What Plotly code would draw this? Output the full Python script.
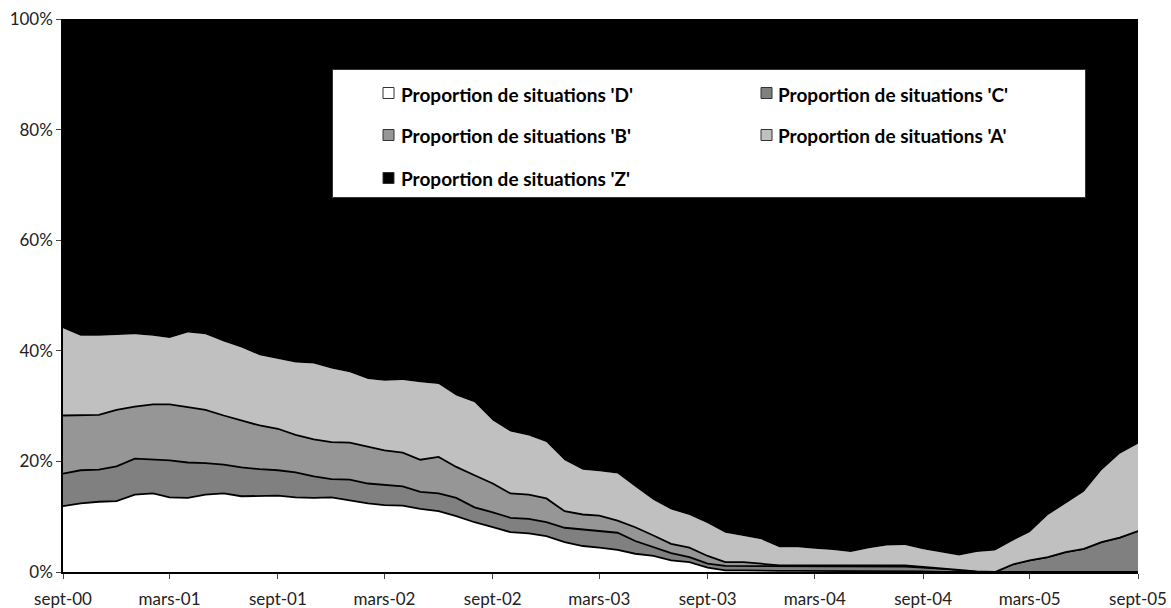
import plotly.graph_objects as go
import pandas as pd

# ---------------- data ----------------
months = pd.date_range("2000-09-01", periods=61, freq="MS")
tick_labels = ["sept-00", "mars-01", "sept-01", "mars-02", "sept-02", "mars-03",
               "sept-03", "mars-04", "sept-04", "mars-05", "sept-05"]

series_names = ["Proportion de situations 'D'", "Proportion de situations 'C'",
                "Proportion de situations 'B'", "Proportion de situations 'A'",
                "Proportion de situations 'Z'"]

prop_D = [11.9, 12.4, 12.7, 12.8, 14.0, 14.2, 13.5, 13.4, 14.0, 14.2,
          13.7, 13.7, 13.8, 13.5, 13.4, 13.5, 13.0, 12.4, 12.1, 12.0,
          11.4, 11.0, 10.1, 9.0, 8.1, 7.2, 7.0, 6.5, 5.4, 4.7,
          4.4, 4.0, 3.3, 2.9, 2.1, 1.8, 0.8, 0.3, 0.3, 0.2,
          0.2, 0.2, 0.2, 0.2, 0.2, 0.2, 0.2, 0.2, 0.1, 0.0,
          0.0, 0.0, 0.0, 0.0, 0.0, 0.0, 0.0, 0.0, 0.0, 0.0, 0.0]

prop_C = [5.9, 6.0, 5.8, 6.3, 6.5, 6.1, 6.7, 6.4, 5.7, 5.2,
          5.2, 4.9, 4.6, 4.5, 3.9, 3.3, 3.7, 3.6, 3.6, 3.5,
          3.1, 3.2, 3.3, 2.7, 2.7, 2.6, 2.6, 2.5, 2.6, 3.0,
          2.9, 3.1, 2.3, 1.6, 1.3, 0.9, 0.7, 0.8, 0.8, 0.8,
          0.8, 0.8, 0.8, 0.8, 0.8, 0.8, 0.8, 0.8, 0.7, 0.6,
          0.3, 0.1, 0.0, 1.4, 2.1, 2.7, 3.6, 4.2, 5.4, 6.2, 7.4]

prop_B = [10.5, 9.9, 9.9, 10.2, 9.4, 10.0, 10.1, 10.0, 9.6, 8.9,
          8.5, 7.9, 7.5, 6.8, 6.7, 6.7, 6.7, 6.7, 6.3, 6.1,
          5.8, 6.6, 5.6, 5.8, 5.2, 4.4, 4.4, 4.3, 3.0, 2.7,
          2.9, 2.2, 2.5, 2.1, 1.7, 1.7, 1.4, 0.7, 0.7, 0.5,
          0.2, 0.2, 0.2, 0.2, 0.2, 0.2, 0.2, 0.2, 0.1, 0.0,
          0.0, 0.0, 0.0, 0.0, 0.0, 0.0, 0.0, 0.0, 0.0, 0.0, 0.0]

prop_A = [15.8, 14.4, 14.3, 13.6, 13.1, 12.4, 12.0, 13.5, 13.7, 13.4,
          13.2, 12.7, 12.6, 13.1, 13.7, 13.3, 12.7, 12.2, 12.6, 13.1,
          14.0, 13.2, 12.9, 13.2, 11.4, 11.2, 10.7, 10.2, 9.2, 8.1,
          8.0, 8.5, 7.3, 6.4, 6.2, 5.9, 5.9, 5.3, 4.7, 4.4,
          3.3, 3.3, 3.0, 2.8, 2.4, 3.1, 3.6, 3.7, 3.2, 3.0,
          2.7, 3.5, 3.9, 4.3, 5.1, 7.6, 8.8, 10.3, 13.0, 15.2, 15.8]

prop_Z = [55.9, 57.3, 57.3, 57.1, 57.0, 57.3, 57.7, 56.7, 57.0, 58.3,
          59.4, 60.8, 61.5, 62.1, 62.3, 63.2, 63.9, 65.1, 65.4, 65.3,
          65.7, 66.0, 68.1, 69.3, 72.6, 74.6, 75.3, 76.5, 79.8, 81.5,
          81.8, 82.2, 84.6, 87.0, 88.7, 89.7, 91.2, 92.9, 93.5, 94.1,
          95.6, 95.6, 95.9, 96.1, 96.5, 95.8, 95.3, 95.2, 95.9, 96.4,
          97.0, 96.4, 96.1, 94.3, 92.8, 89.7, 87.6, 85.5, 81.6, 78.6, 76.8]

# ---------------- styles ----------------
fill_colors = ["#FFFFFF", "#808080", "#969696", "#C0C0C0", "#000000"]
line_widths = [1.8, 1.8, 1.8, 0, 0]
FONT = "Lato, 'Noto Sans', sans-serif"

W, H = 1171, 608
ML, MR, MT, MB = 63, 33, 19, 36
PW, PH = W - ML - MR, H - MT - MB


def px_x(px):
    return (px - ML) / PW


def px_y(py):
    return (H - MB - py) / PH


fig = go.Figure()
all_series = [prop_D, prop_C, prop_B, prop_A, prop_Z]
for k, (name, vals) in enumerate(zip(series_names, all_series)):
    fig.add_trace(go.Scatter(
        x=months, y=vals, name=name, mode="lines",
        stackgroup="one", groupnorm="percent" if k == 0 else None,
        fillcolor=fill_colors[k],
        line=dict(color="black", width=line_widths[k]),
        showlegend=False, hoverinfo="x+y+name",
    ))

# ---------------- manual legend ----------------
shapes = [dict(type="rect", xref="paper", yref="paper",
               x0=px_x(332.5), x1=px_x(1085.5), y0=px_y(197.5), y1=px_y(69.5),
               fillcolor="white", line=dict(color="#333333", width=1), layer="above")]
annotations = []
col_sw = [383, 761]
col_tx = [399, 776]
rows = [93, 135, 178]
for k, name in enumerate(series_names):
    r, c = divmod(k, 2)
    cy = rows[r]
    shapes.append(dict(type="rect", xref="paper", yref="paper",
                       x0=px_x(col_sw[c]), x1=px_x(col_sw[c] + 11),
                       y0=px_y(cy + 5.5), y1=px_y(cy - 5.5),
                       fillcolor=fill_colors[k],
                       line=dict(color="#333333", width=1), layer="above"))
    annotations.append(dict(xref="paper", yref="paper", x=px_x(col_tx[c]), y=px_y(cy + 1),
                            xanchor="left", yanchor="middle", showarrow=False,
                            text="<b>" + name + "</b>",
                            font=dict(family=FONT, size=19, color="black")))

fig.update_layout(
    width=W, height=H,
    margin=dict(l=ML, r=MR, t=MT, b=MB, autoexpand=False),
    paper_bgcolor="white", plot_bgcolor="white",
    showlegend=False,
    font=dict(family=FONT, size=17, color="#222222"),
    shapes=shapes, annotations=annotations,
)
fig.update_xaxes(
    type="date", range=[months[0], months[-1]],
    tickvals=months[::6], ticktext=tick_labels,
    showgrid=False, zeroline=False, showline=True, linecolor="black", linewidth=2,
    ticks="outside", ticklen=5, tickwidth=1, tickcolor="#444444",
    ticklabelstandoff=6,
    tickfont=dict(family=FONT, size=17, color="#222222"), automargin=False,
)
fig.update_yaxes(
    range=[0, 100], tickvals=[0, 20, 40, 60, 80, 100],
    ticktext=["0%", "20%", "40%", "60%", "80%", "100%"],
    showgrid=False, zeroline=False, showline=True, linecolor="black", linewidth=1.5,
    ticks="outside", ticklen=5, tickwidth=1, tickcolor="#444444",
    tickfont=dict(family=FONT, size=17, color="#222222"), automargin=False,
)

fig.write_html("out.html")
